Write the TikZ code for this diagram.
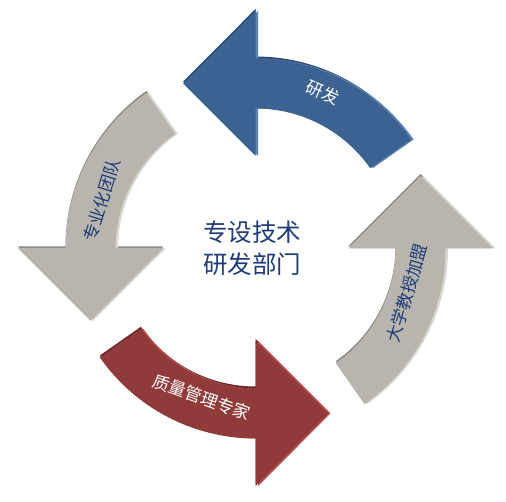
\documentclass[tikz,border=0pt]{standalone}
\usepackage{fontspec}
\newfontfamily\cjk{Noto Sans CJK SC}
\definecolor{blueA}{HTML}{3C6291}
\definecolor{blueD}{HTML}{2C4A70}
\definecolor{blueL}{HTML}{5B84B6}
\definecolor{redA}{HTML}{913A3A}
\definecolor{redD}{HTML}{6C2828}
\definecolor{redL}{HTML}{B24E4E}
\definecolor{grayA}{HTML}{B7B5AD}
\definecolor{grayD}{HTML}{8A8882}
\definecolor{grayL}{HTML}{D8D6D0}
\definecolor{txtblue}{HTML}{1F3B78}
\newcommand\cyclearrowpath[1]{(#1-55:190) arc[start angle=#1-55, end angle=#1, radius=190] -- (#1:237.5) -- (#1+23.72:180.23) -- (#1:92.5) -- (#1:140) arc[start angle=#1, end angle=#1-55, radius=140] -- cycle}
\tikzset{
  lbl/.style={inner sep=0pt, font=\cjk\fontsize{17}{17}\selectfont},
  centertext/.style={inner sep=0pt, align=center, text=txtblue, font=\cjk\fontsize{24.5}{32}\selectfont}
}
\begin{document}
\begin{tikzpicture}[x=1pt,y=1pt]
\useasboundingbox (0,0) rectangle (506,501);
\begin{scope}[shift={(255.5,252.5)}]
  % blue (top)
  \fill[blueD, shift={(0,2)}] \cyclearrowpath{90};
  \fill[blueL, shift={(2.5,0)}] \cyclearrowpath{90};
  \fill[blueA] \cyclearrowpath{90};
  % gray (left)
  \fill[grayD, shift={(0,2)}] \cyclearrowpath{180};
  \fill[grayL, shift={(2.5,0)}] \cyclearrowpath{180};
  \fill[grayA] \cyclearrowpath{180};
  % red (bottom)
  \fill[redD, shift={(0,2)}] \cyclearrowpath{270};
  \fill[redL, shift={(2.5,0)}] \cyclearrowpath{270};
  \fill[redA] \cyclearrowpath{270};
  % gray (right)
  \fill[grayD, shift={(0,2)}] \cyclearrowpath{360};
  \fill[grayL, shift={(2.5,0)}] \cyclearrowpath{360};
  \fill[grayA] \cyclearrowpath{360};
  % labels
  \node[lbl, text=white, rotate=-23.3] (lyf) at (66.7:170) {研发};
  \node[lbl, text=txtblue, rotate=72.5] (ltd) at (162.5:161) {专业化团队};
  \node[lbl, text=white, rotate=-19.8] (lzl) at (250.2:158) {质量管理专家};
  \node[lbl, text=txtblue, rotate=73.6] (ldx) at (-16.4:158) {大学教授加盟};
\end{scope}
\node[centertext] (center) at (252,253) {专设技术\\研发部门};
\end{tikzpicture}
\end{document}
